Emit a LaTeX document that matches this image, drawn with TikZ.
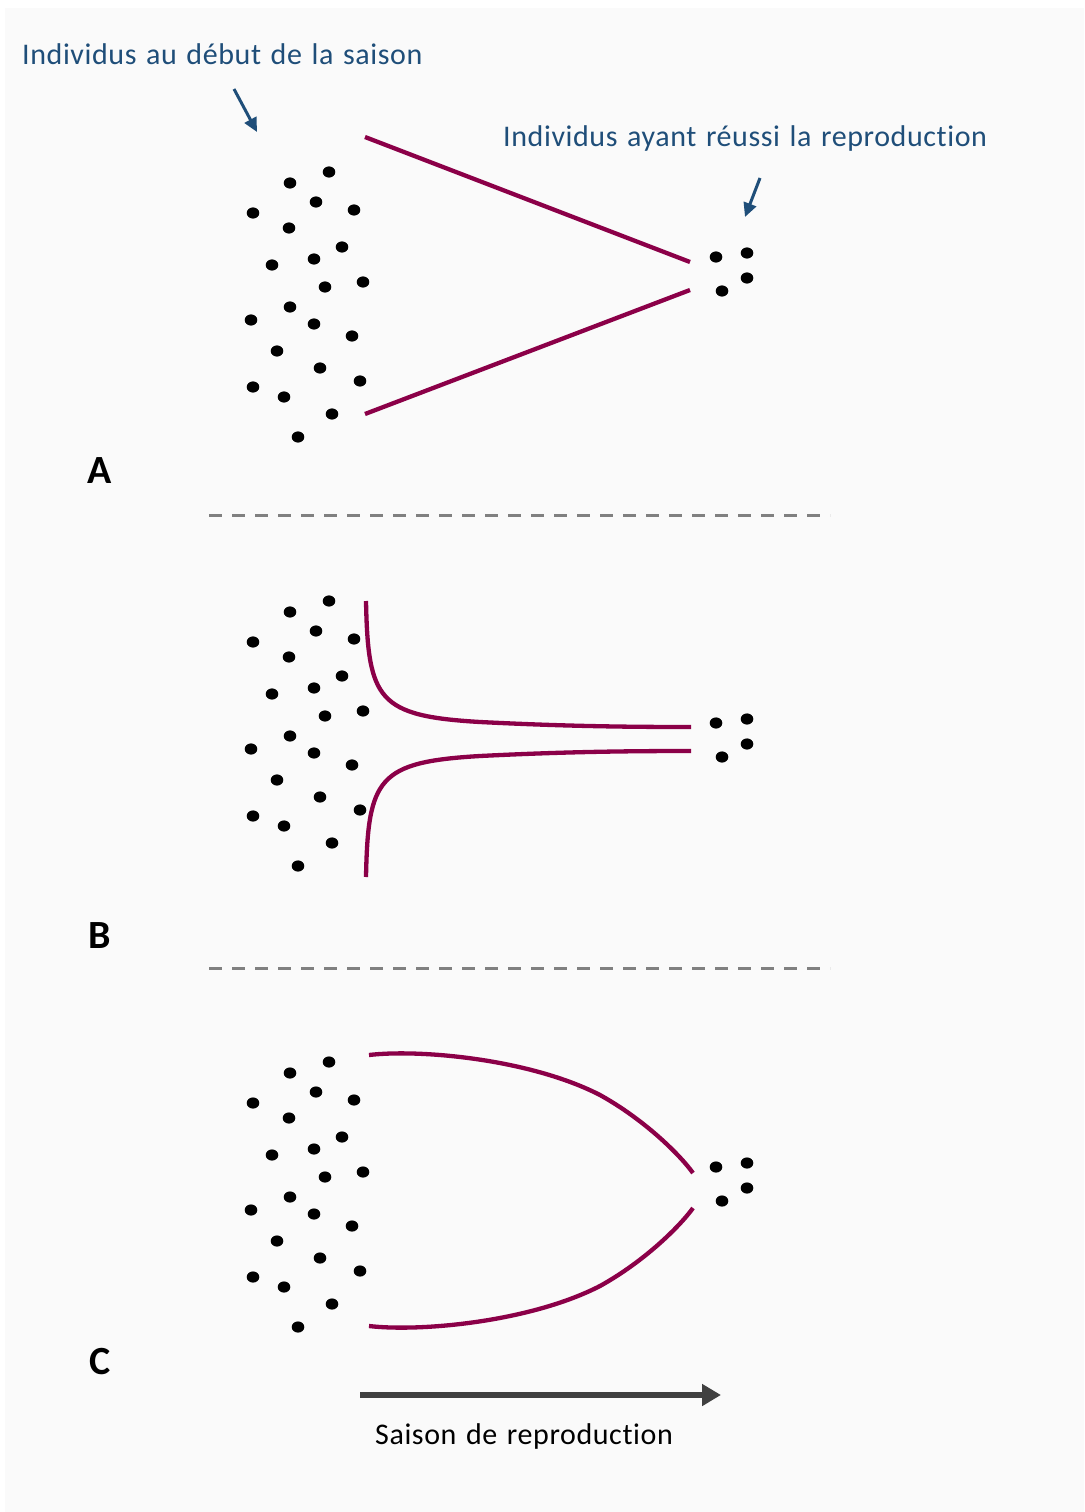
\documentclass[tikz,border=0pt]{standalone}
\usepackage{fontspec}
\setmainfont{Carlito}[Ligatures=NoCommon]
\newfontfamily\capfont{Carlito}[Ligatures=NoCommon,WordSpace=1.3,LetterSpace=2]
\usetikzlibrary{arrows.meta}
\definecolor{panelbg}{RGB}{250,250,250}
\definecolor{labelblue}{RGB}{31,78,121}
\definecolor{pathred}{RGB}{139,0,72}
\definecolor{sepgray}{RGB}{128,128,128}
\definecolor{axisgray}{RGB}{64,64,64}
\tikzset{
  dot/.style={fill=black},
  track/.style={draw=pathred, line width=4.3pt},
  separator/.style={draw=sepgray, line width=3pt, dash pattern=on 13.3pt off 9.7pt},
  pointer/.style={draw=labelblue, line width=3pt, -{Triangle[length=14pt,width=13pt]}},
  caption/.style={text=labelblue, font=\capfont\fontsize{30}{34}\selectfont, inner sep=0pt, anchor=base west},
  panellabel/.style={font=\fontsize{40}{46}\selectfont\bfseries, inner sep=0pt},
}
% the starting population, drawn around a shifted origin
\newcommand{\fullset}[1]{%
  \begin{scope}[shift={(0,#1)}]
    \foreach \px/\py in {329/172,290/183,316/202,354/210,253/213,289/228,342/247,314/259,272/265,325/287,363/282,290/307,251/320,314/324,352/336,277/351,320/368,360/381,253/387,284/397,332/414,298/437}
      \fill[dot] (\px,\py) ellipse (6.3pt and 5.6pt);
  \end{scope}}
% the surviving breeders
\newcommand{\breederset}[1]{%
  \begin{scope}[shift={(0,#1)}]
    \foreach \px/\py in {716/257,747/253,747/278,722/291}
      \fill[dot] (\px,\py) ellipse (6.3pt and 5.6pt);
  \end{scope}}
\begin{document}
\begin{tikzpicture}[x=1pt,y=-1pt]
  \useasboundingbox (0,0) rectangle (1084,1512);
  \fill[white] (0,0) rectangle (1084,1512);
  \fill[panelbg] (5,8) rectangle (1084,1512);

  % captions and pointers
  \node[caption] (startlbl) at (22,64) {Individus au début de la saison};
  \node[caption] (endlbl) at (503,146) {Individus ayant réussi la reproduction};
  \coordinate (p1s) at (234,89);
  \coordinate (p1e) at (257,132);
  \coordinate (p2s) at (760,178);
  \coordinate (p2e) at (745,217);
  \draw[pointer] (p1s) -- (p1e);
  \draw[pointer] (p2s) -- (p2e);

  % panel A: linear decline
  \fullset{0}
  \breederset{0}
  \coordinate (a1) at (365,137);
  \coordinate (a2) at (690,262);
  \coordinate (a3) at (365,414);
  \coordinate (a4) at (690,290);
  \draw[track] (a1) -- (a2);
  \draw[track] (a3) -- (a4);
  \node[panellabel] (labA) at (100,471) {A};

  \coordinate (s1a) at (209,515);
  \coordinate (s1b) at (830,515);
  \draw[separator] (s1a) -- (s1b);

  % panel B: early loss
  \fullset{429}
  \breederset{466}
  \coordinate (b1) at (366,601);
  \coordinate (b2) at (480,722);
  \coordinate (b3) at (691,727);
  \coordinate (b4) at (366,877);
  \coordinate (b5) at (480,756);
  \coordinate (b6) at (691,751);
  \draw[track] (b1) .. controls (368,700) and (378,716) .. (b2)
                    .. controls (560,726) and (620,727) .. (b3);
  \draw[track] (b4) .. controls (368,778) and (378,762) .. (b5)
                    .. controls (560,752) and (620,751) .. (b6);
  \node[panellabel] (labB) at (100,936) {B};

  \coordinate (s2a) at (209,968);
  \coordinate (s2b) at (830,968);
  \draw[separator] (s2a) -- (s2b);

  % panel C: late loss
  \fullset{890}
  \breederset{910}
  \coordinate (c1) at (369,1055);
  \coordinate (c2) at (600,1095);
  \coordinate (c3) at (693,1173);
  \coordinate (c4) at (369,1326);
  \coordinate (c5) at (600,1286);
  \coordinate (c6) at (693,1208);
  \draw[track] (c1) .. controls (420,1049) and (530,1059) .. (c2)
                    .. controls (645,1120) and (680,1155) .. (c3);
  \draw[track] (c4) .. controls (420,1332) and (530,1322) .. (c5)
                    .. controls (645,1261) and (680,1226) .. (c6);
  \node[panellabel] (labC) at (100,1362) {C};

  % time axis
  \coordinate (t0) at (360,1395);
  \coordinate (t1) at (721,1395);
  \draw[draw=axisgray, line width=6pt, -{Triangle[length=19pt,width=21pt]}] (t0) -- (t1);
  \node[caption, text=black] (axislbl) at (375,1444) {Saison de reproduction};
\end{tikzpicture}
\end{document}
